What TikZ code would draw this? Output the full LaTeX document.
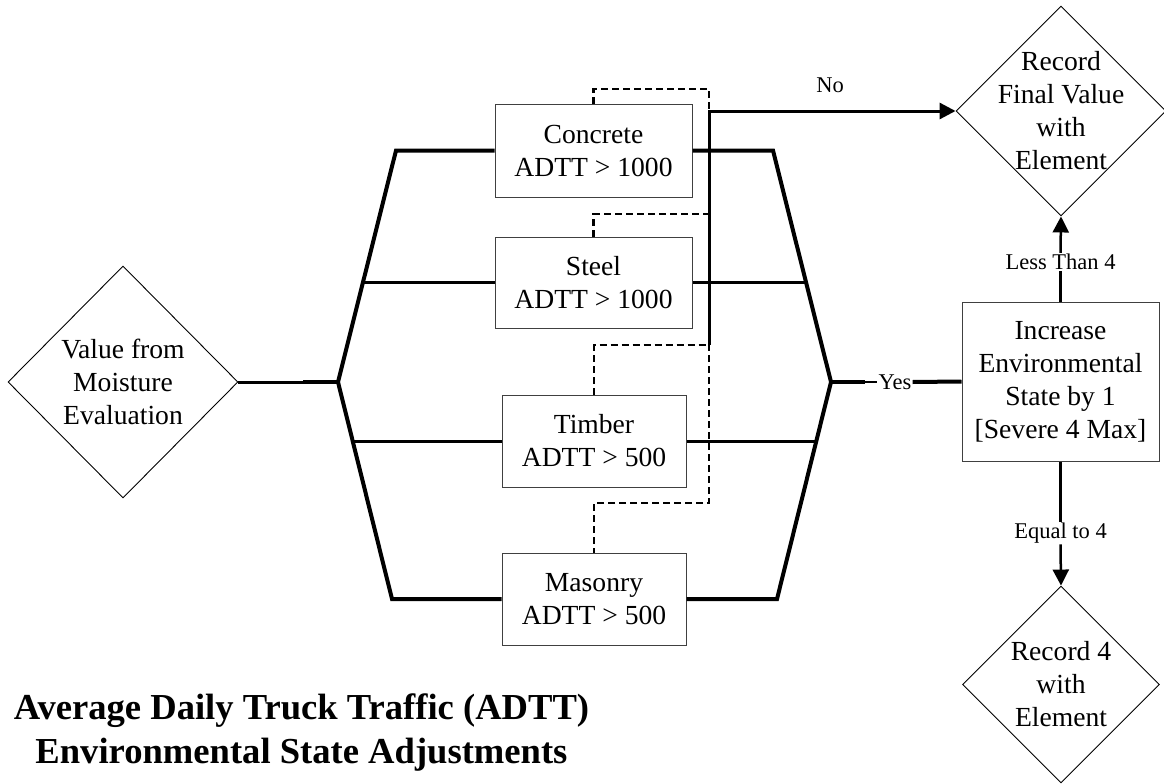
\documentclass[tikz,border=0pt]{standalone}
\usepackage{fontspec}
\setmainfont{Liberation Serif}
\usetikzlibrary{shapes.geometric,arrows.meta}
\begin{document}
\begin{tikzpicture}[x=1pt,y=-1pt,
  box/.style={draw=black!75, line width=1pt, rectangle, align=center, inner sep=0pt, font=\fontsize{27.6}{33}\selectfont},
  diam/.style={draw, line width=0.9pt, diamond, inner sep=0pt},
  dtext/.style={align=center, inner sep=0pt, font=\fontsize{27.6}{33}\selectfont},
  bus/.style={line width=4pt, line join=miter},
  branch/.style={line width=3pt},
  ctl/.style={line width=2.5pt, dash pattern=on 7pt off 4pt},
  lbl/.style={font=\fontsize{22.5}{27}\selectfont, inner sep=1pt},
  arr/.style={line width=2.5pt, -{Triangle[length=16pt,width=16pt]}},
]
\useasboundingbox (0,0) rectangle (1164,784);

% diamonds
\node[diam, minimum width=230pt, minimum height=232pt] (moist) at (123,382) {};
\node[dtext] at (moist) {Value from\\Moisture\\Evaluation};
\node[diam, minimum width=210pt, minimum height=210pt] (final) at (1061,111) {};
\node[dtext] at (final) {Record\\Final Value\\with\\Element};
\node[diam, minimum width=197pt, minimum height=197pt] (rec4) at (1061,684.5) {};
\node[dtext] at (rec4) {Record 4\\with\\Element};

% boxes
\node[box, minimum width=197pt, minimum height=93pt] (conc) at (593.5,150.5) {Concrete\\ADTT > 1000};
\node[box, minimum width=197pt, minimum height=91pt] (steel) at (593.5,282.5) {Steel\\ADTT > 1000};
\node[box, minimum width=184pt, minimum height=92pt] (timber) at (594,441) {Timber\\ADTT > 500};
\node[box, minimum width=184pt, minimum height=92pt] (mason) at (594,599) {Masonry\\ADTT > 500};
\node[box, minimum width=197pt, minimum height=159pt] (inc) at (1060.5,381.5) {Increase\\Environmental\\State by 1\\{[Severe 4 Max]}};

% junction points
\coordinate (lj) at (338,382);
\coordinate (ljin) at (303,382);
\coordinate (ljt) at (396,150.5);
\coordinate (ljb) at (392,599);
\coordinate (ljs) at (363,282.5);
\coordinate (ljm) at (353,441);
\coordinate (rj) at (831,382);
\coordinate (rjout) at (865,382);
\coordinate (rjt) at (773,150.5);
\coordinate (rjb) at (777,599);
\coordinate (rjs) at (806,282.5);
\coordinate (rjm) at (816,441);

% left fan
\draw[branch] (moist.east) -- (ljin);
\draw[bus] (ljin) -- (lj);
\draw[bus] (conc.west) -- (ljt) -- (lj) -- (ljb) -- (mason.west);
\draw[branch] (ljs) -- (steel.west);
\draw[branch] (ljm) -- (timber.west);

% right fan
\draw[bus] (conc.east) -- (rjt) -- (rj) -- (rjb) -- (mason.east);
\draw[branch] (steel.east) -- (rjs);
\draw[branch] (timber.east) -- (rjm);

% yes
\node[lbl] (yes) at (895,382) {Yes};
\draw[bus] (rj) -- (rjout);
\draw[line width=2pt] (rjout) -- (yes.west);
\draw[bus] (yes.east) -- (inc.west);

% dashed control lines
\coordinate (ctop) at (709,89);
\coordinate (cbot) at (709,503);
\draw[ctl] (conc.north) |- (ctop) -- (cbot) -| (mason.north);
\draw[ctl] (steel.north) |- (709,214);
\draw[ctl] (timber.north) |- (709,345);

% no
\coordinate (tap) at (709,345);
\draw[arr, line width=3pt] (tap) |- (final.west);
\node[lbl] (no) at (830,85) {No};

% less than / equal to
\node[lbl] (lt4) at (1060.5,262) {Less Than 4};
\draw[line width=2.5pt] (inc.north) -- (lt4.south);
\draw[arr] (lt4.north) -- (final.south);
\node[lbl] (eq4) at (1060.5,533) {Equal to 4};
\draw[line width=2.5pt] (inc.south) -- (eq4.north);
\draw[arr] (eq4.south) -- (rec4.north);

% title
\node[align=center, inner sep=0pt, font=\fontsize{36.6}{44}\selectfont\bfseries] (title) at (301.5,732.5) {Average Daily Truck Traffic (ADTT)\\Environmental State Adjustments};
\end{tikzpicture}
\end{document}
